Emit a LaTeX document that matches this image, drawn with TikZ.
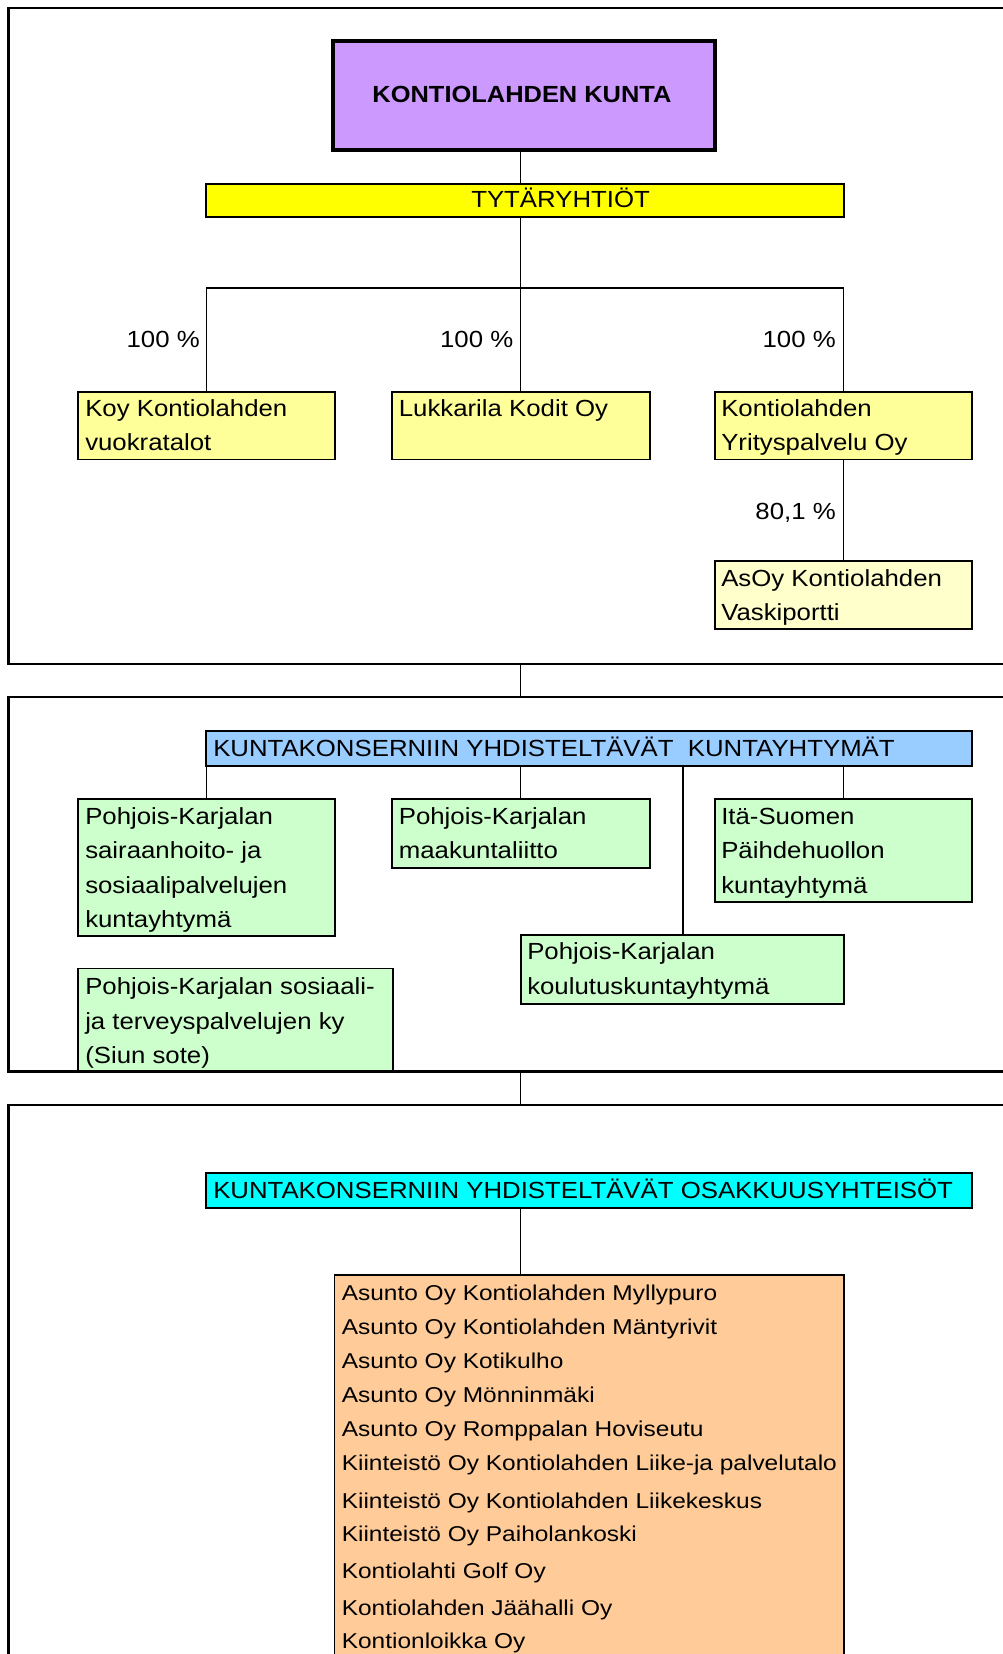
\documentclass[tikz,border=0pt]{standalone}
\usepackage{fontspec}
\setmainfont{Liberation Sans}
\newfontfamily\boxfont[FakeStretch=1.105]{Liberation Sans}
\newfontfamily\headfont[FakeStretch=1.09]{Liberation Sans}
\newfontfamily\listfont[FakeStretch=1.14]{Liberation Sans}
\usetikzlibrary{fit}
\definecolor{cpurple}{HTML}{CC99FF}
\definecolor{cyellow}{HTML}{FFFF00}
\definecolor{clyellow}{HTML}{FFFF99}
\definecolor{cpale}{HTML}{FFFFCC}
\definecolor{cblue}{HTML}{99CCFF}
\definecolor{cgreen}{HTML}{CCFFCC}
\definecolor{ccyan}{HTML}{00FFFF}
\definecolor{corange}{HTML}{FFCC99}
\begin{document}
\begin{tikzpicture}[x=0.75pt,y=-0.75pt,
  framebox/.style={draw, line width=1.8pt, inner sep=0pt},
  conn/.style={line width=1.2pt},
  orgbox/.style={draw, line width=1.4pt, inner sep=0pt},
  txt/.style={anchor=base west, inner sep=0pt, font=\boxfont\fontsize{17.5}{21}\selectfont},
  lbl/.style={anchor=base east, inner sep=0pt, font=\boxfont\fontsize{17.5}{21}\selectfont},
  ltxt/.style={anchor=base west, inner sep=0pt, font=\listfont\fontsize{16.1}{20}\selectfont}]
\clip (0,0) rectangle (1003,1654);
\fill[white] (0,0) rectangle (1003,1654);
% coordinates for connector columns
\coordinate (spine) at (520.5,0);
\coordinate (xl) at (206.5,0);
\coordinate (xr) at (843.5,0);
\coordinate (xd) at (683,0);
\coordinate (branch) at (0,288);
% frames
\node[framebox, fit={(8.3,8) (1015,664)}] (f1) {};
\node[framebox, fit={(8.3,697) (1015,1071)}] (f2) {};
\node[framebox, fit={(8.3,1105) (1015,1670)}] (f3) {};
% section 1
\node[orgbox, line width=2.5pt, fill=cpurple, fit={(333,41) (715,150)}] (kunta) {};
\node[anchor=base, inner sep=0pt, font=\headfont\fontsize{17.5}{21}\selectfont\bfseries] (kuntat) at (522,102.7) {KONTIOLAHDEN KUNTA};
\node[orgbox, fill=cyellow, fit={(206,184) (844,217)}] (tyt) {};
\node[txt] (tytt) at (471,207.7) {TYTÄRYHTIÖT};
\node[orgbox, fill=clyellow, fit={(78,391.7) (335,459.5)}] (b1) {};
\node[orgbox, fill=clyellow, fit={(392,391.7) (650,459.5)}] (b2) {};
\node[orgbox, fill=clyellow, fit={(715,391.7) (972,459.5)}] (b3) {};
\node[orgbox, fill=cpale, fit={(715,561) (972,629)}] (b4) {};
\node[txt] (b1a) at (85,416) {Koy Kontiolahden};
\node[txt] (b1b) at (85,450.7) {vuokratalot};
\node[txt] (b2a) at (398.6,416) {Lukkarila Kodit Oy};
\node[txt] (b3a) at (721,416) {Kontiolahden};
\node[txt] (b3b) at (721,450.7) {Yrityspalvelu Oy};
\node[txt] (b4a) at (721,586) {AsOy Kontiolahden};
\node[txt] (b4b) at (721,620.5) {Vaskiportti};
\node[lbl] (p1) at (200,347.7) {100 \%};
\node[lbl] (p2) at (513.5,347.7) {100 \%};
\node[lbl] (p3) at (836,347.7) {100 \%};
\node[lbl] (p4) at (836,519) {80,1 \%};
\draw[conn] (kunta.south -| spine) -- (tyt.north -| spine);
\draw[conn] (tyt.south -| spine) -- (spine |- branch) -- (b2.north -| spine);
\draw[conn] (b1.north -| xl) -- (xl |- branch) -- (xr |- branch) -- (b3.north -| xr);
\draw[conn] (b3.south -| xr) -- (b4.north -| xr);
\draw[conn] (f1.south -| spine) -- (f2.north -| spine);
% section 2
\node[orgbox, fill=cblue, fit={(206,731) (972,766)}] (kuy) {};
\node[txt] (kuyt) at (213,756.5) {KUNTAKONSERNIIN YHDISTELTÄVÄT\ \ KUNTAYHTYMÄT};
\node[orgbox, fill=cgreen, fit={(78,799) (335,936)}] (ga) {};
\node[orgbox, fill=cgreen, fit={(392,799) (650,868)}] (gb) {};
\node[orgbox, fill=cgreen, fit={(715,799) (972,902)}] (gc) {};
\node[orgbox, fill=cgreen, fit={(521,935) (844,1004)}] (gd) {};
\node[orgbox, fill=cgreen, fit={(78,968.5) (393,1071)}] (ge) {};
\node[txt] (ga1) at (85,824) {Pohjois-Karjalan};
\node[txt] (ga2) at (85,858.5) {sairaanhoito- ja};
\node[txt] (ga3) at (85,893) {sosiaalipalvelujen};
\node[txt] (ga4) at (85,927) {kuntayhtymä};
\node[txt] (gb1) at (398.6,824) {Pohjois-Karjalan};
\node[txt] (gb2) at (398.6,858.5) {maakuntaliitto};
\node[txt] (gc1) at (721,824) {Itä-Suomen};
\node[txt] (gc2) at (721,858.5) {Päihdehuollon};
\node[txt] (gc3) at (721,893) {kuntayhtymä};
\node[txt] (gd1) at (527,959.5) {Pohjois-Karjalan};
\node[txt] (gd2) at (527,994) {koulutuskuntayhtymä};
\node[txt] (ge1) at (85,994.5) {Pohjois-Karjalan sosiaali-};
\node[txt] (ge2) at (85,1029) {ja terveyspalvelujen ky};
\node[txt] (ge3) at (85,1063.5) {(Siun sote)};
\draw[conn] (kuy.south -| xl) -- (ga.north -| xl);
\draw[conn] (kuy.south -| spine) -- (gb.north -| spine);
\draw[conn] (kuy.south -| xr) -- (gc.north -| xr);
\draw[conn] (kuy.south -| xd) -- (gd.north -| xd);
\draw[framebox] (f2.south west) -- (f2.south east);
\draw[conn] (f2.south -| spine) -- (f3.north -| spine);
% section 3
\node[orgbox, fill=ccyan, fit={(206,1173) (972,1208)}] (osy) {};
\node[txt] (osyt) at (213,1198) {KUNTAKONSERNIIN YHDISTELTÄVÄT OSAKKUUSYHTEISÖT};
\node[orgbox, fill=corange, fit={(334.5,1275) (844,1700)}] (ob) {};
\draw[conn] (osy.south -| spine) -- (ob.north -| spine);
\node[ltxt] (o1) at (341.5,1300) {Asunto Oy Kontiolahden Myllypuro};
\node[ltxt] (o2) at (341.5,1334) {Asunto Oy Kontiolahden Mäntyrivit};
\node[ltxt] (o3) at (341.5,1368.3) {Asunto Oy Kotikulho};
\node[ltxt] (o4) at (341.5,1402.3) {Asunto Oy Mönninmäki};
\node[ltxt] (o5) at (341.5,1436.3) {Asunto Oy Romppalan Hoviseutu};
\node[ltxt] (o6) at (341.5,1470) {Kiinteistö Oy Kontiolahden Liike-ja palvelutalo};
\node[ltxt] (o7) at (341.5,1508) {Kiinteistö Oy Kontiolahden Liikekeskus};
\node[ltxt] (o8) at (341.5,1541.5) {Kiinteistö Oy Paiholankoski};
\node[ltxt] (o9) at (341.5,1578.5) {Kontiolahti Golf Oy};
\node[ltxt] (o10) at (341.5,1615.5) {Kontiolahden Jäähalli Oy};
\node[ltxt] (o11) at (341.5,1648.8) {Kontionloikka Oy};
\end{tikzpicture}
\end{document}
